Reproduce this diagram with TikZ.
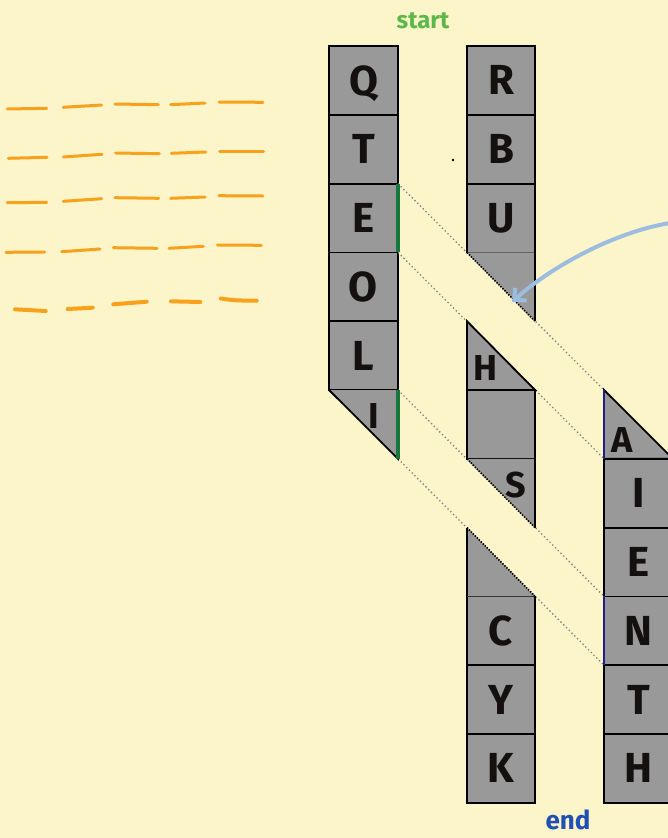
\documentclass[tikz,border=0pt]{standalone}
\usepackage{fontspec}
\setmainfont{Fira Sans}
\usetikzlibrary{arrows.meta}
\definecolor{bg}{HTML}{FCF5CA}
\definecolor{cellgray}{HTML}{999999}
\definecolor{dashor}{HTML}{F9A11B}
\definecolor{grn}{HTML}{17773D}
\definecolor{nvy}{HTML}{1E1E88}
\definecolor{arr}{HTML}{9CBCE0}
\definecolor{startg}{HTML}{5DB84A}
\definecolor{endb}{HTML}{2150B4}
\definecolor{ink}{HTML}{141010}
\begin{document}
\begin{tikzpicture}[x=1pt,y=-1pt,
  cellbox/.style={draw=black,line width=1.8pt,fill=cellgray,minimum width=69pt,minimum height=68.8pt,inner sep=0pt,outer sep=0pt,text=ink,font=\bfseries\fontsize{42}{42}\selectfont,text depth=0pt,yshift=0pt},
  midbox/.style={cellbox,minimum width=68pt},
  tedge/.style={draw=black,line width=1.8pt,line join=miter},
  dotblk/.style={black,line width=1.6pt,dash pattern=on 1.4pt off 1.4pt},
  guide/.style={black!50,line width=1.3pt,dash pattern=on 1.3pt off 2.6pt},
  gmark/.style={grn,line width=3.5pt},
  nmark/.style={nvy,line width=2.6pt},
  triltr/.style={text=ink,font=\bfseries\fontsize{36}{36}\selectfont,inner sep=0pt},
  ordash/.style={dashor,line width=3pt,line cap=round},
  ordashb/.style={dashor,line width=4pt,line cap=round}]
\fill[bg] (0,0) rectangle (668,838);
\useasboundingbox (0,0) rectangle (668,838);
\clip (0,0) rectangle (668,838);

% orange dashes
\draw[ordash] (7.3,109) -- (46.7,108.3);
\draw[ordash] (63.3,107.3) -- (101.7,105);
\draw[ordash] (115,104) -- (158.3,104.7);
\draw[ordash] (170.7,104.7) -- (205,103);
\draw[ordash] (219,102) -- (263,102.3);
\draw[ordash] (8.3,158.3) -- (47,157.3);
\draw[ordash] (63.3,157) -- (102,154.3);
\draw[ordash] (115.7,153) -- (159.3,153.7);
\draw[ordash] (171.3,153.3) -- (205.7,152);
\draw[ordash] (219.7,151) -- (263.7,151);
\draw[ordash] (7.3,202.7) -- (46.7,202.3);
\draw[ordash] (63.3,201.3) -- (101.7,198.7);
\draw[ordash] (115,197.7) -- (158.7,198.3);
\draw[ordash] (170.7,198.3) -- (205,197);
\draw[ordash] (219,195.7) -- (263,196);
\draw[ordash] (6,252.3) -- (44.7,252);
\draw[ordash] (61.7,251.7) -- (100,249);
\draw[ordash] (113.3,247.7) -- (157,248.3);
\draw[ordash] (169,248.3) -- (203.3,246.3);
\draw[ordash] (217.3,245) -- (261.3,245.3);
\draw[ordashb] (15,309.3) .. controls (30,310.5) .. (45.7,311);
\draw[ordashb] (67.7,309) -- (92.7,307.7);
\draw[ordashb] (113.3,304.3) -- (146.7,301.7);
\draw[ordashb] (171,301.3) -- (200.3,302);
\draw[ordashb] (220.7,298.5) .. controls (235,300.5) .. (256.7,300.7);

% labels
\node[text=startg,font=\bfseries\fontsize{24}{24}\selectfont] (start) at (423,21) {start};
\node[text=endb,font=\bfseries\fontsize{26}{26}\selectfont] (end) at (568,820) {end};
\fill[black] (453,160) circle (1.3pt);

% reference coordinates
\coordinate (aTop) at (604,390);
\coordinate (iBot) at (398,458.8);

% left column
\node[cellbox] (Q) at (363.5,80.4) {Q};
\node[cellbox] (T) at (363.5,149.2) {T};
\node[cellbox] (E) at (363.5,218) {E};
\node[cellbox] (O) at (363.5,286.8) {O};
\node[cellbox] (L) at (363.5,355.6) {L};

% right column
\node[cellbox] (I2) at (638.5,493.2) {I};
\node[cellbox] (E2) at (638.5,562) {E};
\node[cellbox] (N) at (638.5,630.8) {N};
\node[cellbox] (T2) at (638.5,699.6) {T};
\node[cellbox] (H2) at (638.5,768.4) {H};

% guide lines
\draw[guide] (E.north east) -- (aTop);
\draw[guide] (E.south east) -- (I2.north west);
\draw[guide] (L.south east) -- (N.north west);
\draw[guide] (iBot) -- (N.south west);

% left triangle I
\fill[cellgray] (L.south west) -- (L.south east) -- (iBot) -- cycle;
\draw[tedge] (L.south west) -- (iBot) -- (L.south east);
\node[triltr] (Itri) at (374,416) {I};

% middle column
\node[midbox] (R) at (501,80.4) {R};
\node[midbox] (B) at (501,149.2) {B};
\node[midbox] (U) at (501,218) {U};
\fill[cellgray] (U.south west) -- (U.south east) -- (535,321.2) -- cycle;
\draw[tedge] (U.south east) -- (535,321.2);
\draw[dotblk] (U.south west) -- (535,321.2);

\node[midbox] (blank) at (501,424.4) {};
\fill[cellgray] (467,321.2) -- (blank.north west) -- (blank.north east) -- cycle;
\draw[tedge] (467,321.2) -- (blank.north west) -- (blank.north east) -- cycle;
\node[triltr] (H) at (485,368) {H};

\fill[cellgray] (blank.south west) -- (blank.south east) -- (535,527.6) -- cycle;
\draw[tedge] (blank.south east) -- (535,527.6);
\draw[dotblk] (blank.south west) -- (535,527.6);
\node[triltr] (S) at (516,485) {S};

\node[midbox] (C) at (501,630.8) {C};
\node[midbox] (Y) at (501,699.6) {Y};
\node[midbox] (K) at (501,768.4) {K};
\fill[cellgray] (467,527.6) -- (C.north west) -- (C.north east) -- cycle;
\draw[tedge] (467,527.6) -- (C.north west);
\draw[dotblk] (467,527.6) -- (C.north east);

% right triangle A
\fill[cellgray] (aTop) -- (I2.north west) -- (I2.north east) -- cycle;
\draw[tedge] (aTop) -- (I2.north west) -- (I2.north east) -- cycle;
\node[triltr] (A) at (622,440) {A};

% colour marks
\draw[gmark] (E.north east) -- (E.south east);
\draw[gmark] (L.south east) -- (iBot);
\draw[nmark] (aTop) -- (I2.north west);
\draw[nmark] (N.north west) -- (N.south west);

% blue arrow
\coordinate (arrStart) at (670,223);
\coordinate (arrTip) at (512,302);
\draw[arr,line width=4pt,line cap=round,-{Straight Barb[length=9pt,width=17pt,line width=4pt]}]
  (arrStart) .. controls (615,232) and (552,266) .. (arrTip);
\end{tikzpicture}
\end{document}
